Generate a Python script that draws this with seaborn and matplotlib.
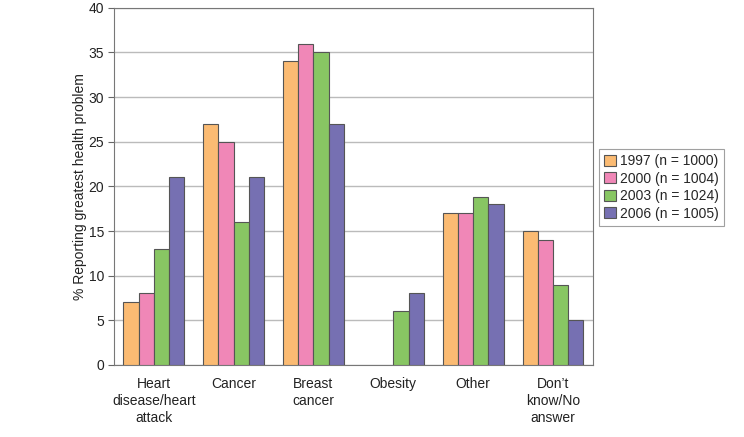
import matplotlib
matplotlib.use("Agg")
import matplotlib.pyplot as plt
import numpy as np
import pandas as pd
import seaborn as sns

categories = ["Heart\ndisease/heart\nattack", "Cancer", "Breast\ncancer", "Obesity", "Other", "Don\u2019t\nknow/No\nanswer"]
years = ["1997 (n = 1000)", "2000 (n = 1004)", "2003 (n = 1024)", "2006 (n = 1005)"]
v1997 = [7, 27, 34, np.nan, 17, 15]
v2000 = [8, 25, 36, np.nan, 17, 14]
v2003 = [13, 16, 35, 6, 18.8, 9]
v2006 = [21, 21, 27, 8, 18, 5]
colors = ["#FBBB73", "#F087B7", "#88C663", "#7670B2"]

rows = []
for yr, vals in zip(years, [v1997, v2000, v2003, v2006]):
    for c, v in zip(categories, vals):
        if not np.isnan(v):
            rows.append({"problem": c, "year": yr, "pct": v})
df = pd.DataFrame(rows)

sns.set_style("white")
plt.rcParams["font.family"] = ["Liberation Sans", "DejaVu Sans"]

fig = plt.figure(figsize=(7.44, 4.37), dpi=100)
ax = fig.add_axes([0.153, 0.165, 0.644, 0.817])

sns.barplot(data=df, x="problem", y="pct", hue="year", order=categories,
            hue_order=years, palette=colors, width=0.76, edgecolor="#555555",
            linewidth=0.8, errorbar=None, saturation=1, ax=ax, zorder=3)

ax.set_ylim(0, 40)
ax.set_yticks(range(0, 41, 5))
ax.set_xlim(-0.5, len(categories) - 0.5)
ax.yaxis.grid(True, color="#bbbbbb", linewidth=1, zorder=0)
ax.set_axisbelow(True)
ax.set_xlabel("")
ax.set_ylabel("% Reporting greatest health problem", fontsize=10, color="#222222", labelpad=1)
ax.tick_params(axis="x", which="major", length=0, labelsize=10, pad=9, colors="#222222")
ax.set_xticks(np.arange(-0.5, len(categories), 1), minor=True)
ax.tick_params(axis="x", which="minor", length=5, width=0.8, color="#666666", direction="out")
ax.tick_params(axis="y", length=4, width=0.8, color="#666666", labelsize=10, labelcolor="#222222", left=True, pad=3)
for t in ax.get_xticklabels():
    t.set_verticalalignment("top")
    t.set_linespacing(1.25)
for s in ax.spines.values():
    s.set_color("#777777")
    s.set_linewidth(0.8)

leg = ax.legend(loc="upper left", bbox_to_anchor=(0.805, 0.66), bbox_transform=fig.transFigure,
                fontsize=10, frameon=True, fancybox=False, handlelength=0.8, handleheight=0.8,
                handletextpad=0.3, borderpad=0.4, labelspacing=0.25, borderaxespad=0)
leg.get_frame().set_edgecolor("#888888")
leg.get_frame().set_linewidth(0.8)

fig.savefig("out.png", dpi=100)
